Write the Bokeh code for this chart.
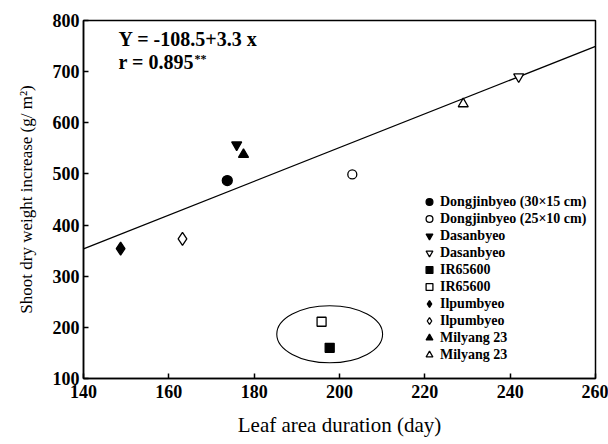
from bokeh.plotting import figure
from bokeh.models import Legend, LegendItem, Label, FixedTicker, Range1d
from bokeh.embed import file_html
from bokeh.resources import INLINE

# data
names = ["Dongjinbyeo (30×15 cm)", "Dongjinbyeo (25×10 cm)", "Dasanbyeo", "Dasanbyeo",
         "IR65600", "IR65600", "Ilpumbyeo", "Ilpumbyeo", "Milyang 23", "Milyang 23"]
lad = [173.7, 203, 175.9, 242, 197.7, 195.8, 148.7, 163.2, 177.5, 229]
sdw = [487, 499, 557, 690, 160, 211, 354, 373, 538, 637]
markers = ["circle", "circle", "inverted_triangle", "inverted_triangle", "square", "square",
           "diamond", "diamond", "triangle", "triangle"]
filled = [True, False, True, False, True, False, True, False, True, False]
intercept = -108.5
slope = 3.3
line_x = [140, 260]
ell_x = [197.7]
ell_y = [186.5]
ell_w = [24.8]
ell_h = [111.5]
x_ticks = [140, 160, 180, 200, 220, 240, 260]
y_ticks = [100, 200, 300, 400, 500, 600, 700, 800]

FONT = "Liberation Serif"

p = figure(width=608, height=444, output_backend="svg", toolbar_location=None,
           x_range=Range1d(140, 260), y_range=Range1d(100, 800),
           min_border_left=83, min_border_right=13, min_border_top=20, min_border_bottom=66)
p.background_fill_color = "white"
p.border_fill_color = "white"
p.grid.visible = False
p.outline_line_color = "black"
p.outline_line_width = 1.5

for ax in (p.xaxis[0], p.yaxis[0]):
    ax.major_tick_in = 5
    ax.major_tick_out = 0
    ax.minor_tick_line_color = None
    ax.axis_line_width = 1.5
    ax.axis_line_color = "black"
    ax.major_tick_line_width = 1.5
    ax.major_tick_line_color = "black"
    ax.major_label_text_font = FONT
    ax.major_label_text_font_size = "18px"
    ax.major_label_text_font_style = "bold"
    ax.major_label_text_color = "black"
    ax.axis_label_text_font = FONT
    ax.axis_label_text_font_style = "normal"
    ax.axis_label_text_color = "black"
p.xaxis.axis_label_text_font_size = "21px"
p.yaxis.axis_label_text_font_size = "17px"
p.xaxis.ticker = FixedTicker(ticks=x_ticks)
p.yaxis.ticker = FixedTicker(ticks=y_ticks)
p.xaxis.axis_label = "Leaf area duration (day)"
p.yaxis.axis_label = "Shoot dry weight increase (g/ m²)"
p.xaxis.major_label_standoff = 6
p.yaxis.major_label_standoff = 4
p.xaxis.axis_label_standoff = 12
p.yaxis.axis_label_standoff = 14

# regression line
line_y = [intercept + slope * v for v in line_x]
p.line(line_x, line_y, line_color="black", line_width=1.3)

# ellipse
p.ellipse(x=ell_x, y=ell_y, width=ell_w, height=ell_h, fill_color=None,
          line_color="black", line_width=1.1)

items = []
for i in range(len(names)):
    size = 10
    if markers[i] == "diamond":
        size = 13
    if markers[i] == "square":
        size = 9
    if markers[i] == "circle" and not filled[i]:
        size = 9
    r = p.scatter([lad[i]], [sdw[i]], marker=markers[i], size=size,
                  fill_color="black" if filled[i] else "white",
                  line_color="black", line_width=1.3)
    items.append(LegendItem(label=names[i], renderers=[r]))

legend = Legend(items=items, location=(337, 15), background_fill_alpha=0,
                border_line_color=None, label_text_font=FONT,
                label_text_font_size="14px", label_text_font_style="bold",
                label_text_color="black",
                glyph_height=17, glyph_width=18, label_height=14, spacing=-2,
                padding=0, margin=0, label_standoff=2)
p.add_layout(legend, "center")

p.add_layout(Label(x=148.2, y=743, text="Y = -108.5+3.3 x", text_font=FONT,
                   text_font_size="20px", text_font_style="bold", text_color="black"))
p.add_layout(Label(x=148.2, y=697, text="r = 0.895", text_font=FONT,
                   text_font_size="20px", text_font_style="bold", text_color="black"))
p.add_layout(Label(x=166, y=712, text="**", text_font=FONT,
                   text_font_size="12px", text_font_style="bold", text_color="black"))

open("out.html", "w").write(file_html(p, INLINE))
